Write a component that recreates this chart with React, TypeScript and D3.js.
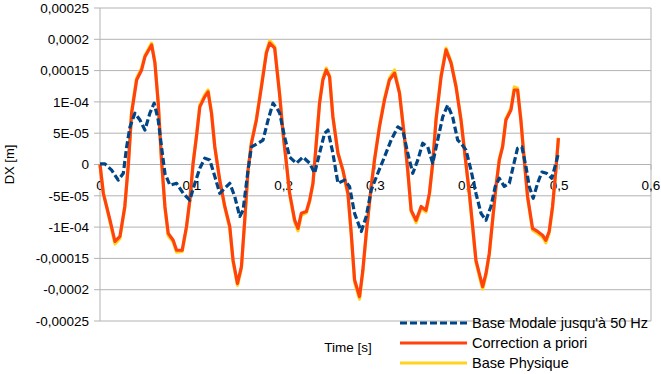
import * as d3 from "d3";

// values in units of 1E-5 m, time in s
const modaleData: [number, number][] = [
  [0, 0.1], [0.0054, 0.1], [0.0127, -0.9], [0.0199, -2.5], [0.0254, -1.4], [0.029, 2.8],
  [0.0326, 6.0], [0.038, 8.2], [0.0435, 7.1], [0.0489, 5.5], [0.0543, 8.2], [0.059, 9.8],
  [0.0634, 7.1], [0.067, 2.8], [0.0707, -1.4], [0.0761, -3.3], [0.0834, -3.0], [0.0906, -4.6],
  [0.0978, -5.7], [0.1033, -3.0], [0.1087, -0.6], [0.1141, 1.0], [0.1196, 0.7], [0.125, -1.9],
  [0.1304, -4.6], [0.1359, -3.8], [0.1413, -3.0], [0.1467, -5.1], [0.1522, -8.3], [0.1558, -7.3],
  [0.1612, -0.9], [0.1649, 2.8], [0.1721, 3.4], [0.1775, 3.9], [0.183, 7.1], [0.1884, 9.8],
  [0.1938, 8.7], [0.1957, 8.2], [0.201, 4.4], [0.2065, 1.2], [0.2138, 0.2], [0.221, 1.2],
  [0.2283, 0.2], [0.2337, -1.4], [0.2391, 1.8], [0.2446, 5.0], [0.2482, 5.5], [0.2536, 1.8],
  [0.2591, -3.0], [0.2663, -2.5], [0.2717, -3.5], [0.2772, -7.8], [0.2845, -10.7], [0.2899, -8.3],
  [0.2953, -4.1], [0.3025, -1.4], [0.3098, 1.2], [0.317, 3.9], [0.3243, 6.0], [0.3297, 5.5],
  [0.3351, 1.8], [0.3406, -1.4], [0.346, 0.7], [0.3514, 3.4], [0.3569, 2.8], [0.3623, 0.2],
  [0.3677, 3.9], [0.3732, 7.6], [0.3786, 9.5], [0.384, 7.6], [0.3895, 3.9], [0.3931, 3.4],
  [0.3986, 2.3], [0.404, -0.9], [0.4094, -4.6], [0.4149, -7.8], [0.4203, -8.9], [0.4257, -6.7],
  [0.4304, -3.5], [0.4348, -2.2], [0.4402, -3.5], [0.4457, -3.0], [0.45, -0.3], [0.4547, 2.6],
  [0.4594, 2.8], [0.4638, -0.3], [0.4674, -3.5], [0.4717, -5.4], [0.4765, -3.0], [0.4812, -1.2],
  [0.4862, -1.4], [0.492, -2.2], [0.4964, 0.2], [0.4992, 1.8],
];

const correctionData: [number, number][] = [
  [0, 0], [0.0036, -4.6], [0.0109, -8.9], [0.0163, -12.3], [0.0217, -11.5], [0.027, -6.7],
  [0.031, 0.2], [0.0344, 8.2], [0.0399, 13.5], [0.0453, 15.1], [0.0489, 17.2], [0.0562, 19.1],
  [0.0598, 16.2], [0.0634, 9.8], [0.067, 0.7], [0.0707, -6.7], [0.0743, -11.0], [0.0797, -12.1],
  [0.0834, -13.7], [0.0895, -13.7], [0.0942, -9.9], [0.0978, -5.7], [0.1014, 0.2], [0.105, 4.4],
  [0.1087, 9.2], [0.114, 10.8], [0.1177, 11.6], [0.1214, 8.2], [0.125, 2.8], [0.1304, -2.5],
  [0.1359, -6.7], [0.1413, -9.9], [0.1449, -15.3], [0.1497, -19.0], [0.154, -16.3], [0.1576, -8.9],
  [0.1612, -0.9], [0.1649, 3.4], [0.1703, 7.1], [0.1758, 12.4], [0.1812, 17.8], [0.1848, 19.4],
  [0.1902, 18.6], [0.1957, 11.0], [0.1993, 5.0], [0.203, 0.2], [0.2065, -4.6], [0.212, -8.9],
  [0.2156, -10.2], [0.2192, -7.8], [0.2247, -7.5], [0.2283, -5.7], [0.2319, -3.0], [0.2355, 3.4],
  [0.2391, 9.8], [0.2427, 13.5], [0.2464, 15.1], [0.25, 14.0], [0.2536, 7.6], [0.2591, 1.8],
  [0.2645, -0.9], [0.27, -4.6], [0.2736, -11.0], [0.2772, -18.4], [0.2826, -21.1], [0.2862, -16.9],
  [0.2899, -11.0], [0.2953, -3.5], [0.2989, 0.7], [0.3043, 6.0], [0.3098, 10.3], [0.3152, 13.5],
  [0.3207, 14.6], [0.3261, 11.4], [0.3315, 4.4], [0.3351, -0.9], [0.3388, -7.3], [0.3442, -8.9],
  [0.3497, -6.7], [0.355, -7.3], [0.3587, -4.6], [0.3623, 0.2], [0.3659, 7.1], [0.3714, 14.0],
  [0.3768, 18.3], [0.3823, 16.2], [0.3877, 12.4], [0.3931, 7.1], [0.3986, 0.0], [0.4022, -4.6],
  [0.4058, -9.9], [0.4094, -15.3], [0.413, -17.4], [0.4167, -19.5], [0.4203, -17.4], [0.4239, -14.2],
  [0.4275, -8.9], [0.4312, -3.5], [0.4348, 0.7], [0.4384, 2.8], [0.442, 7.1], [0.4475, 8.7],
  [0.4511, 11.9], [0.4547, 11.9], [0.4583, 7.1], [0.462, 0.7], [0.4656, -5.1], [0.471, -10.2],
  [0.4765, -10.7], [0.4819, -11.3], [0.4855, -12.1], [0.4891, -10.7], [0.4928, -6.7], [0.4964, -0.9],
  [0.4992, 4.2],
];

const physiqueData: [number, number][] = [
  [0, 0], [0.0036, -4.4], [0.0109, -9.2], [0.0163, -12.7], [0.0217, -11.8], [0.027, -6.9],
  [0.031, 0.4], [0.0344, 8.5], [0.0399, 13.8], [0.0453, 15.4], [0.0489, 17.4], [0.0562, 19.4],
  [0.0598, 16.4], [0.0634, 9.9], [0.067, 0.6], [0.0707, -6.9], [0.0743, -11.4], [0.0797, -12.4],
  [0.0834, -14.0], [0.0895, -13.9], [0.0942, -10.1], [0.0978, -5.8], [0.1014, 0.3], [0.105, 4.6],
  [0.1087, 9.5], [0.114, 11.1], [0.1177, 11.9], [0.1214, 8.4], [0.125, 2.9], [0.1304, -2.6],
  [0.1359, -6.9], [0.1413, -10.2], [0.1449, -15.6], [0.1497, -19.3], [0.154, -16.6], [0.1576, -9.1],
  [0.1612, -1.0], [0.1649, 3.6], [0.1703, 7.3], [0.1758, 12.7], [0.1812, 18.1], [0.1848, 19.8],
  [0.1902, 18.9], [0.1957, 11.2], [0.1993, 5.1], [0.203, 0.1], [0.2065, -4.8], [0.212, -9.2],
  [0.2156, -10.6], [0.2192, -8.1], [0.2247, -7.7], [0.2283, -5.9], [0.2319, -3.1], [0.2355, 3.5],
  [0.2391, 10.0], [0.2427, 13.8], [0.2464, 15.4], [0.25, 14.2], [0.2536, 7.7], [0.2591, 1.9],
  [0.2645, -1.0], [0.27, -4.8], [0.2736, -11.3], [0.2772, -18.8], [0.2826, -21.5], [0.2862, -17.2],
  [0.2899, -11.2], [0.2953, -3.6], [0.2989, 0.8], [0.3043, 6.2], [0.3098, 10.6], [0.3152, 13.8],
  [0.3207, 15.1], [0.3261, 11.6], [0.3315, 4.5], [0.3351, -1.0], [0.3388, -7.5], [0.3442, -9.3],
  [0.3497, -7.0], [0.355, -7.6], [0.3587, -4.8], [0.3623, 0.3], [0.3659, 7.3], [0.3714, 14.3],
  [0.3768, 18.6], [0.3823, 16.4], [0.3877, 12.6], [0.3931, 7.2], [0.3986, 0.0], [0.4022, -4.8],
  [0.4058, -10.2], [0.4094, -15.6], [0.413, -17.8], [0.4167, -19.9], [0.4203, -17.7], [0.4239, -14.4],
  [0.4275, -9.0], [0.4312, -3.6], [0.4348, 0.8], [0.4384, 3.0], [0.442, 7.3], [0.4475, 9.0],
  [0.4511, 12.4], [0.4547, 12.2], [0.4583, 7.2], [0.462, 0.6], [0.4656, -5.3], [0.471, -10.5],
  [0.4765, -11.0], [0.4819, -11.6], [0.4855, -12.5], [0.4891, -11.0], [0.4928, -6.9], [0.4964, -0.9],
  [0.4992, 4.3],
];

const xTicks = [0, 0.1, 0.2, 0.3, 0.4, 0.5, 0.6];
const xTickLabels = ["0", "0,1", "0,2", "0,3", "0,4", "0,5", "0,6"];
const yTicks = [25, 20, 15, 10, 5, 0, -5, -10, -15, -20, -25];
const yTickLabels = [
  "0,00025", "0,0002", "0,00015", "1E-04", "5E-05", "0",
  "-5E-05", "-1E-04", "-0,00015", "-0,0002", "-0,00025",
];

const series = [
  { name: "Base Modale jusqu'à 50 Hz", data: modaleData, color: "#004586", dash: "7,3" },
  { name: "Correction a priori", data: correctionData, color: "#ff420e", dash: null },
  { name: "Base Physique", data: physiqueData, color: "#ffd320", dash: null },
];

const W = 661;
const H = 374;
const left = 100;
const right = 651;
const top = 8;
const bottom = 321;
const font = "'Liberation Sans', Arial, sans-serif";

export default function App() {
  const x = d3.scaleLinear().domain([0, 0.6]).range([left, right]);
  const y = d3.scaleLinear().domain([-25, 25]).range([bottom, top]);
  const line = d3
    .line<[number, number]>()
    .x((d) => x(d[0]))
    .y((d) => y(d[1]));

  // yellow under orange, dashed blue on top
  const drawOrder = [series[2], series[1], series[0]];

  return (
    <svg
      width={W}
      height={H}
      style={{ position: "absolute", left: 0, top: 0, background: "#fff" }}
      fontFamily={font}
    >
      {yTicks.map((t) => (
        <line key={"g" + t} x1={left} x2={right} y1={y(t)} y2={y(t)} stroke="#b3b3b3" strokeWidth={1} />
      ))}
      <line x1={right} x2={right} y1={top} y2={bottom} stroke="#b3b3b3" />
      <line x1={left} x2={left} y1={top} y2={bottom} stroke="#b3b3b3" />
      {yTicks.map((t, i) => (
        <g key={"y" + t}>
          <line x1={left - 6} x2={left} y1={y(t)} y2={y(t)} stroke="#b3b3b3" />
          <text x={left - 11} y={y(t)} dy="0.35em" textAnchor="end" fontSize={13.5} fill="#000">
            {yTickLabels[i]}
          </text>
        </g>
      ))}
      {xTicks.map((t, i) => (
        <g key={"x" + t}>
          <line x1={x(t)} x2={x(t)} y1={y(0)} y2={y(0) + 5} stroke="#b3b3b3" />
          <text x={x(t)} y={y(0) + 25} textAnchor="middle" fontSize={13.5} fill="#000">
            {xTickLabels[i]}
          </text>
        </g>
      ))}
      {drawOrder.map((s) => (
        <path
          key={s.name}
          d={line(s.data) || ""}
          fill="none"
          stroke={s.color}
          strokeWidth={3.2}
          strokeDasharray={s.dash || undefined}
          strokeLinejoin="round"
        />
      ))}
      <text
        transform={`translate(14,${(top + bottom) / 2}) rotate(-90)`}
        textAnchor="middle"
        fontSize={13}
        fill="#000"
      >
        DX [m]
      </text>
      <text x={348} y={352} textAnchor="middle" fontSize={13.5} fill="#000">
        Time [s]
      </text>
      {series.map((s, i) => (
        <g key={"l" + i} transform={`translate(0,${323 + i * 20})`}>
          <line
            x1={400}
            x2={467}
            y1={0}
            y2={0}
            stroke={s.color}
            strokeWidth={3.2}
            strokeDasharray={s.dash || undefined}
          />
          <text x={472} y={0} dy="0.35em" fontSize={14.5} fill="#000">
            {s.name}
          </text>
        </g>
      ))}
    </svg>
  );
}
